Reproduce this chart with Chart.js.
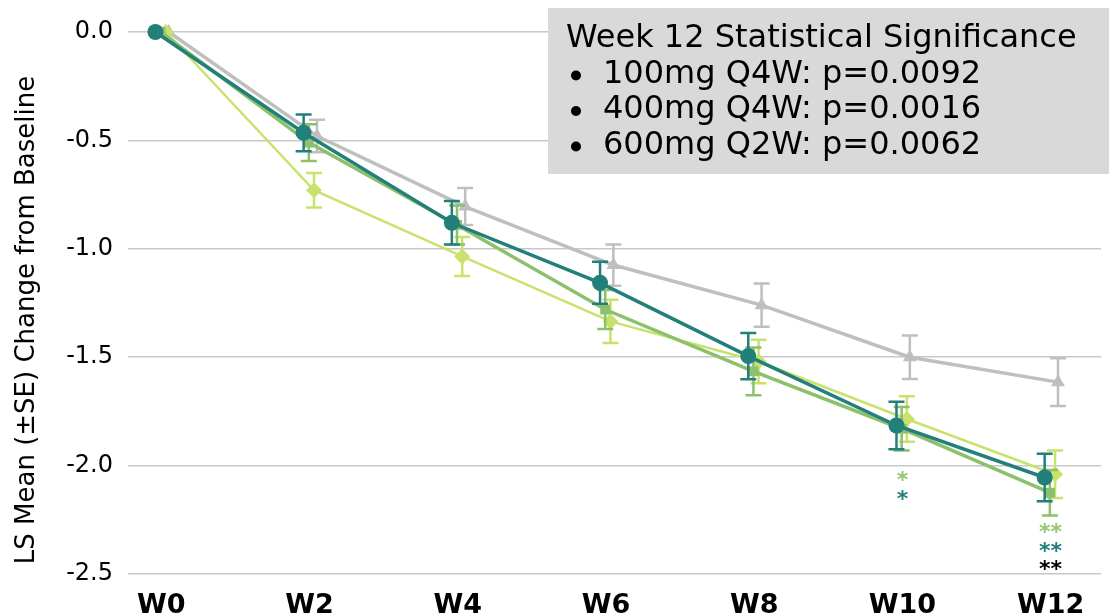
<!DOCTYPE html>
<html>
<head>
<meta charset="utf-8">
<script src="https://cdn.jsdelivr.net/npm/chart.js@4.4.1/dist/chart.umd.min.js"></script>
<style>
  html, body { margin: 0; padding: 0; background: #fff; }
  #wrap { width: 1109px; height: 616px; }
</style>
</head>
<body>
<div id="wrap"><canvas id="myChart"></canvas></div>
<script>
const weekLabels = ['W0', 'W2', 'W4', 'W6', 'W8', 'W10', 'W12'];
const weeks = [0, 2, 4, 6, 8, 10, 12];

const placeboMean = [0, -0.48, -0.805, -1.075, -1.26, -1.5, -1.615];
const placeboSE = [0, 0.075, 0.085, 0.095, 0.1, 0.1, 0.11];
const dose100Mean = [0, -0.73, -1.035, -1.335, -1.52, -1.785, -2.04];
const dose100SE = [0, 0.08, 0.09, 0.1, 0.1, 0.105, 0.11];
const dose400Mean = [0, -0.51, -0.89, -1.28, -1.565, -1.83, -2.125];
const dose400SE = [0, 0.085, 0.09, 0.09, 0.11, 0.1, 0.105];
const dose600Mean = [0, -0.465, -0.88, -1.157, -1.495, -1.815, -2.055];
const dose600SE = [0, 0.085, 0.1, 0.097, 0.107, 0.11, 0.11];

// significance stars under the points
const starWeeks = [10, 10, 12, 12, 12];
const starLevels = [-2.074, -2.16, -2.314, -2.4, -2.484];
const starText = ['*', '*', '**', '**', '**'];

const yTitle = 'LS Mean (±SE) Change from Baseline';
const boxLines = [
    'Week 12 Statistical Significance',
    '100mg Q4W: p=0.0092',
    '400mg Q4W: p=0.0016',
    '600mg Q2W: p=0.0062'
];

const FONT = "'DejaVu Sans', Verdana, sans-serif";
const starColors = ['#93c66e', '#237f7a', '#93c66e', '#237f7a', '#000000'];

function pts(mean, dodge) {
    return weeks.map((w, i) => ({ x: w + dodge, y: mean[i] }));
}

const errorBars = {
    id: 'errorBars',
    beforeDatasetDraw(chart, args) {
        const ds = chart.data.datasets[args.index];
        const yScale = chart.scales.y;
        const ctx = chart.ctx;
        ctx.save();
        ctx.strokeStyle = ds.borderColor;
        ctx.lineWidth = 2.5;
        args.meta.data.forEach((pt, i) => {
            const se = ds.se[i];
            if (!se) return;
            const v = ds.data[i].y;
            const top = yScale.getPixelForValue(v + se);
            const bot = yScale.getPixelForValue(v - se);
            ctx.beginPath();
            ctx.moveTo(pt.x, top); ctx.lineTo(pt.x, bot);
            ctx.moveTo(pt.x - 8, top); ctx.lineTo(pt.x + 8, top);
            ctx.moveTo(pt.x - 8, bot); ctx.lineTo(pt.x + 8, bot);
            ctx.stroke();
        });
        ctx.restore();
    }
};

const extras = {
    id: 'extras',
    afterDraw(chart) {
        const ctx = chart.ctx;
        const xs = chart.scales.x, ys = chart.scales.y;
        ctx.save();
        // y axis title (sits a bit below the centre, as in the original)
        ctx.save();
        ctx.translate(34, 320);
        ctx.rotate(-Math.PI / 2);
        ctx.font = '26px ' + FONT;
        ctx.fillStyle = '#000';
        ctx.textAlign = 'center';
        ctx.textBaseline = 'alphabetic';
        ctx.fillText(yTitle, 0, 0);
        ctx.restore();
        // stars
        ctx.font = 'bold 22px ' + FONT;
        ctx.textAlign = 'center';
        ctx.textBaseline = 'middle';
        starWeeks.forEach((w, i) => {
            ctx.fillStyle = starColors[i];
            ctx.fillText(starText[i], xs.getPixelForValue(w), ys.getPixelForValue(starLevels[i]));
        });
        // significance box
        ctx.fillStyle = '#d9d9d9';
        ctx.fillRect(548, 8, chart.width - 548, 166);
        ctx.fillStyle = '#000';
        ctx.font = '32px ' + FONT;
        ctx.textAlign = 'left';
        ctx.textBaseline = 'middle';
        boxLines.forEach((t, i) => {
            const y = 39 + i * 35.5;
            if (i === 0) {
                ctx.fillText(t, 566, y);
            } else {
                ctx.beginPath();
                ctx.arc(576, y + 1, 5, 0, Math.PI * 2);
                ctx.fill();
                ctx.fillText(t, 603, y);
            }
        });
        ctx.restore();
    }
};

new Chart(document.getElementById('myChart'), {
    type: 'line',
    data: {
        datasets: [{
            label: '600mg Q2W',
            data: pts(dose600Mean, -0.08),
            se: dose600SE,
            borderColor: '#237f7a',
            backgroundColor: '#237f7a',
            borderWidth: 3.5,
            pointStyle: 'circle',
            pointRadius: 8,
            pointBorderWidth: 0,
            clip: false
        }, {
            label: '400mg Q4W',
            data: pts(dose400Mean, -0.01),
            se: dose400SE,
            borderColor: '#8cc06a',
            backgroundColor: '#8cc06a',
            borderWidth: 3.5,
            pointStyle: 'rect',
            pointRadius: 7,
            pointBorderWidth: 0,
            clip: false
        }, {
            label: '100mg Q4W',
            data: pts(dose100Mean, 0.06),
            se: dose100SE,
            borderColor: '#c9e26c',
            backgroundColor: '#c9e26c',
            borderWidth: 2.5,
            pointStyle: 'rectRot',
            pointRadius: 8,
            pointBorderWidth: 0,
            clip: false
        }, {
            label: 'Placebo',
            data: pts(placeboMean, 0.1),
            se: placeboSE,
            borderColor: '#bfbfbf',
            backgroundColor: '#bfbfbf',
            borderWidth: 3.5,
            pointStyle: 'triangle',
            pointRadius: 8,
            pointBorderWidth: 0,
            clip: false
        }]
    },
    options: {
        responsive: true,
        maintainAspectRatio: false,
        animation: false,
        layout: { padding: { left: 12, top: 32, right: 0, bottom: 0 } },
        plugins: { legend: { display: false }, tooltip: { enabled: false } },
        scales: {
            x: {
                type: 'linear',
                min: -0.45,
                max: 12.68,
                grid: { display: false },
                border: { display: false },
                afterBuildTicks: s => { s.ticks = weeks.map(v => ({ value: v })); },
                afterFit: s => { s.height = 42; },
                ticks: {
                    callback: v => weekLabels[weeks.indexOf(v)],
                    font: { family: FONT, size: 27, weight: 'bold' },
                    color: '#000',
                    padding: 8,
                    maxRotation: 0,
                    autoSkip: false
                }
            },
            y: {
                min: -2.5,
                max: 0,
                afterFit: s => { s.width = 116; },
                grid: { color: '#c8c8c8', lineWidth: 1.5, drawTicks: false },
                border: { display: false },
                ticks: {
                    stepSize: 0.5,
                    callback: v => v.toFixed(1),
                    font: { family: FONT, size: 24 },
                    color: '#000',
                    padding: 15
                }
            }
        }
    },
    plugins: [errorBars, extras]
});
</script>
</body>
</html>
